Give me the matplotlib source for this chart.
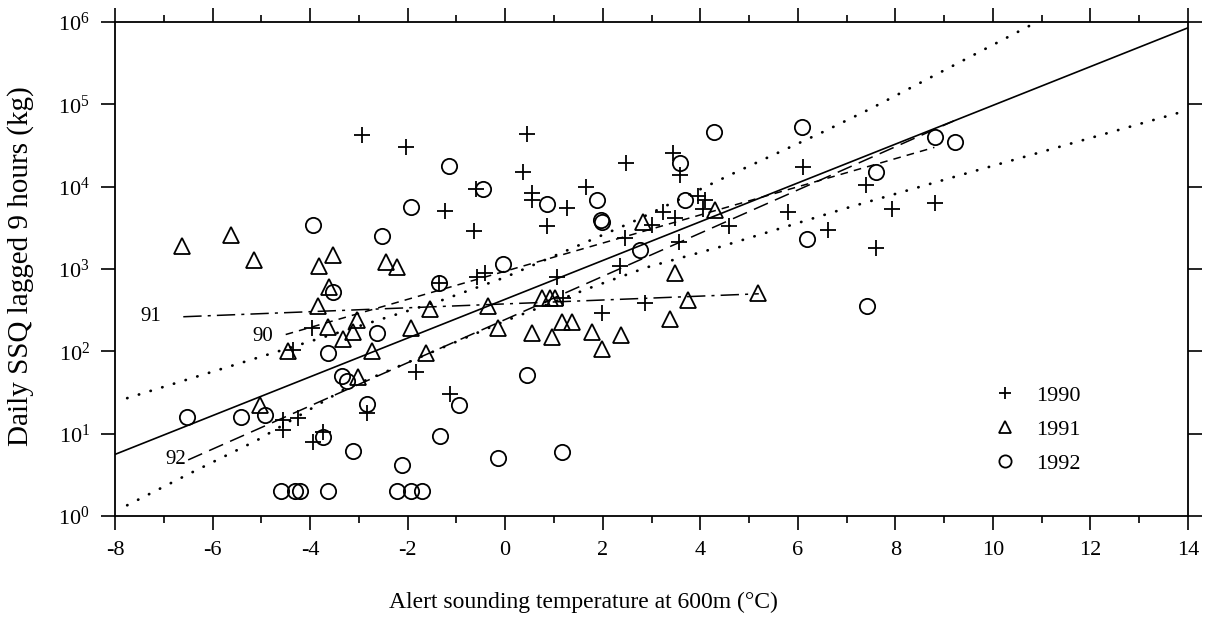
import math
import matplotlib
matplotlib.use('Agg')
import matplotlib.pyplot as plt
from matplotlib.ticker import FixedLocator, MultipleLocator, FuncFormatter
from matplotlib.lines import Line2D

plt.rcParams['font.family'] = ['Liberation Serif', 'DejaVu Serif']
plt.rcParams['mathtext.fontset'] = 'stix'
plt.rcParams['axes.unicode_minus'] = False

# ---------------- data ----------------
x1990 = [-2.94, -2.03, -0.60, -1.23, -0.64, -1.36, -0.58, -0.41, -3.96, -4.35,
         -1.83, -1.13, -2.83, -4.56, -4.25, -4.56, -3.74, -3.94, 0.45, 0.37,
         0.55, 0.55, 1.27, 0.86, 1.66, 2.48, 3.44, 3.59, 3.95, 4.10,
         4.05, 3.24, 3.48, 3.01, 2.46, 3.56, 2.35, 1.06, 5.80, 6.11,
         4.59, 6.62, 7.60, 7.40, 7.93, 8.81, 1.19, 1.99, 2.87]
y1990 = [42600, 30000, 9500, 5000, 2900, 680, 810, 890, 190, 105,
         56, 30, 18, 14.5, 15.4, 11, 10.5, 8, 44000, 15000,
         8400, 6900, 5500, 3300, 10000, 19500, 26000, 14000, 7800, 6800,
         5400, 4900, 4200, 3400, 2400, 2100, 1100, 790, 4900, 17500,
         3300, 3000, 1800, 10500, 5400, 6300, 450, 290, 390]

x1991 = [-6.63, -5.62, -5.15, -3.82, -3.53, -2.44, -2.22, -3.61, -3.84, -1.54,
         -0.35, -3.63, -3.04, -3.12, -3.32, -1.93, -0.15, -4.45, -2.73, -1.62,
         -3.02, -5.03, 0.76, 0.92, 1.02, 3.75, 5.18, 3.38, 1.17, 1.37,
         0.55, 0.96, 1.78, 2.38, 1.99, 4.30, 2.83, 3.48]
y1991 = [1900, 2600, 1300, 1100, 1500, 1200, 1050, 600, 355, 325,
         360, 195, 240, 170, 140, 190, 190, 100, 102, 95,
         49, 22, 450, 450, 450, 420, 510, 245, 225, 225,
         165, 148, 170, 158, 107, 5200, 3700, 890]

x1992 = [-1.15, -0.45, -1.93, -3.94, -2.53, -0.04, -1.36, -3.53, -2.63, -3.63,
         -3.35, -3.25, -0.95, -2.83, -6.52, -5.42, -4.92, -3.74, -3.12, -1.34,
         -2.12, -0.15, -4.60, -4.31, -4.21, -3.63, -2.22, -1.93, -1.70, 0.86,
         1.88, 1.97, 1.99, 3.59, 4.28, 3.69, 2.77, 6.09, 6.19, 7.60,
         8.81, 9.22, 7.42, 0.45, 1.17]
y1992 = [18000, 9300, 5600, 3400, 2500, 1150, 680, 525, 165, 95,
         50, 44, 22, 23, 16, 16, 17, 9.1, 6.2, 9.3,
         4.2, 5.0, 2, 2, 2, 2, 2, 2, 2, 6100,
         6900, 3900, 3700, 19500, 46000, 6900, 1700, 53000, 2300, 15000,
         40000, 35000, 360, 51, 6.0]

# regression lines (end points)
fit_all_x = [-8, 14]
fit_all_y = [5.6, 850000]
fit90_x = [-4.5, 8.8]
fit90_y = [160, 30000]
fit91_x = [-6.6, 5.2]
fit91_y = [263, 500]
fit92_x = [-6.5, 9.2]
fit92_y = [4.8, 63000]

# confidence band
band_up_x = [-7.75, -5.9, -4.7, -1.3, 0.0, 2.6, 4.6, 6.5, 7.5, 10.9]
band_up_y = [27, 59, 98, 417, 794, 3700, 13800, 45700, 89000, 1000000]
band_lo_x = [-7.75, -6.46, -5.09, -3.32, 0.0, 1.74, 2.91, 4.41, 7.0, 9.33, 14.0]
band_lo_y = [1.35, 3.3, 8.3, 34, 234, 590, 1050, 1860, 5500, 13800, 85000]

year_labels = ['1990', '1991', '1992']
line_labels = ['90', '91', '92']

# ---------------- figure ----------------
W, H = 1206, 621
fig = plt.figure(figsize=(W / 100, H / 100), dpi=100)
ax = fig.add_axes([115 / W, 1 - 516 / H, (1188 - 115) / W, (516 - 22) / H])
ax.set_yscale('log')
ax.set_xlim(-8, 14)
ax.set_ylim(1, 1e6)

mk = dict(linestyle='none', color='black', markerfacecolor='none',
          markeredgecolor='black', markeredgewidth=1.3, markersize=11)
ax.plot(x1990, y1990, marker='+', **mk)
ax.plot(x1991, y1991, marker='^', **mk)
ax.plot(x1992, y1992, marker='o', **mk)

ax.plot(fit_all_x, fit_all_y, color='black', lw=1.2, linestyle='-')
ax.plot(fit90_x, fit90_y, color='black', lw=1.1, linestyle=(0, (5, 4)))
ax.plot(fit91_x, fit91_y, color='black', lw=1.1, linestyle=(0, (12, 4, 2, 4)))
ax.plot(fit92_x, fit92_y, color='black', lw=1.1, linestyle=(0, (10, 5)))
dot = dict(color='black', lw=2.0, linestyle=(0, (0.1, 4.3)), dash_capstyle='round')
ax.plot(band_up_x, band_up_y, **dot)
ax.plot(band_lo_x, band_lo_y, **dot)

tfs = 15
ax.text(fit90_x[0] - 0.25, fit90_y[0] * 0.95, line_labels[0], ha='right', va='center', fontsize=tfs)
ax.text(fit91_x[0] - 0.45, fit91_y[0], line_labels[1], ha='right', va='center', fontsize=tfs)
ax.text(fit92_x[0] - 0.05, fit92_y[0], line_labels[2], ha='right', va='center', fontsize=tfs)

# ticks
ax.xaxis.set_major_locator(MultipleLocator(2))
ax.xaxis.set_minor_locator(MultipleLocator(1))
ax.yaxis.set_major_locator(FixedLocator([10 ** k for k in range(7)]))
ax.yaxis.set_minor_locator(FixedLocator([]))
ax.yaxis.set_major_formatter(FuncFormatter(lambda v, p: r'$\mathregular{10^{%d}}$' % round(math.log10(v))))
ax.xaxis.set_major_formatter(FuncFormatter(lambda v, p: '%d' % v))
ax.tick_params(which='both', direction='out', top=True, right=True, color='black', width=1.2)
ax.tick_params(which='major', length=10, labelsize=16, pad=8)
ax.tick_params(which='minor', length=5)
for s in ax.spines.values():
    s.set_linewidth(1.3)

ax.set_xlabel('Alert sounding temperature at 600m (°C)', fontsize=17)
ax.xaxis.set_label_coords((583 - 115) / 1073, -(592 - 516) / 494)
ax.set_ylabel('Daily SSQ lagged 9 hours (kg)', fontsize=21)
ax.yaxis.set_label_coords(-(115 - 34) / 1073, (516 - 266) / 494)

handles = [Line2D([], [], marker=m, **mk) for m in ['+', '^', 'o']]
ax.legend(handles, year_labels, loc='upper left', bbox_to_anchor=(0.80, 0.305),
          frameon=False, fontsize=16, markerscale=0.8, handlelength=1.0,
          handletextpad=0.9, labelspacing=0.6)

fig.savefig('out.png', dpi=100)
